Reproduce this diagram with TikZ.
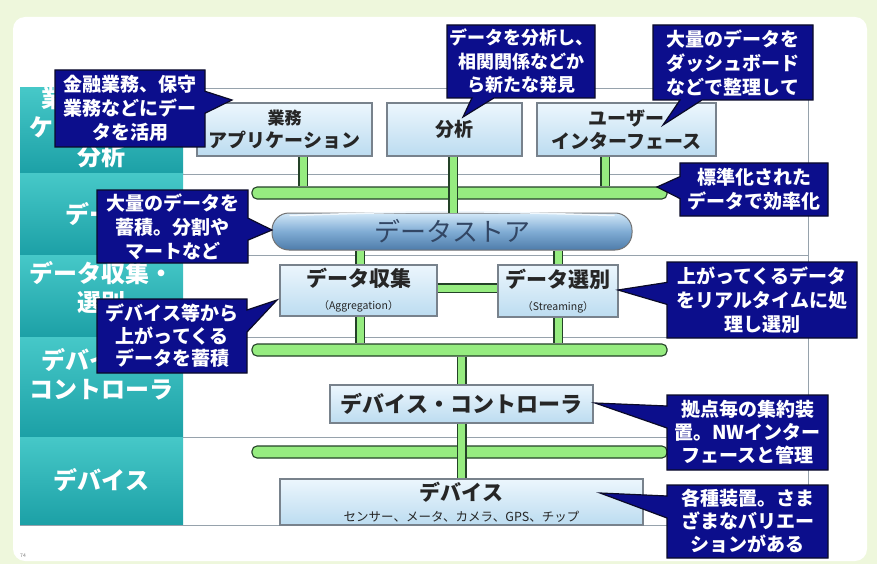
\documentclass[tikz,border=0pt]{standalone}
\usepackage{fontspec}
\setmainfont{Noto Sans CJK JP}
\usetikzlibrary{shapes.callouts,calc}
\definecolor{bgG}{RGB}{238,247,220}
\definecolor{tealT}{RGB}{70,200,200}
\definecolor{tealB}{RGB}{28,160,166}
\definecolor{gridline}{RGB}{150,162,172}
\definecolor{boxtop}{RGB}{236,246,253}
\definecolor{boxbot}{RGB}{188,220,240}
\definecolor{boxline}{RGB}{120,130,140}
\definecolor{busfill}{RGB}{150,236,128}
\definecolor{busline}{RGB}{36,66,40}
\definecolor{callfill}{RGB}{12,14,140}
\definecolor{callline}{RGB}{10,10,40}
\definecolor{dsT}{RGB}{210,232,248}
\definecolor{dsM}{RGB}{128,172,212}
\definecolor{dsB}{RGB}{78,124,170}
\definecolor{dstext}{RGB}{50,70,100}
\begin{document}
\begin{tikzpicture}[x=1pt,y=-1pt,
  box/.style={draw=boxline, line width=1.2pt, top color=boxtop, bottom color=boxbot,
    inner sep=0pt, align=center, font=\fontsize{19}{23}\selectfont\bfseries, text=black!85},
  bus/.style={draw=busline, fill=busfill, line width=1.1pt, rounded corners=5pt,
    minimum width=415pt, minimum height=12pt, inner sep=0pt},
  conn/.style={line width=10pt, draw=busline, postaction={draw=busfill, line width=7pt}},
  call/.style={rectangle callout, fill=callfill, draw=callline, line width=1.2pt, text=white,
    font=\fontsize{19}{24}\selectfont\bfseries, align=center, inner sep=0pt,
    callout pointer width=22pt},
  rowlab/.style={text=white, font=\fontsize{24}{29}\selectfont\bfseries, align=center},
  grid/.style={draw=gridline, line width=0.8pt}]
\useasboundingbox (0,0) rectangle (877,564);
% background and panel
\fill[bgG] (0,0) rectangle (877,564);
\fill[white, rounded corners=12pt] (13,17) rectangle (867,561);
% left column rows
\foreach \a/\b in {88/174,174/255,255/337,337/437,437/525}
  \shade[top color=tealT, bottom color=tealB] (20,\a) rectangle (183,\b);
\node[rowlab] (r1) at (101.5,127) {業務アプリ\\ケーション・\\分析};
\node[rowlab] (r2) at (101.5,214) {データ};
\node[rowlab] (r3) at (101.5,288) {データ収集・\\選別};
\node[rowlab] (r4) at (101.5,374) {デバイス・\\コントローラ};
\node[rowlab] (r5) at (101.5,480) {デバイス};
% grid lines
\foreach \y in {88,174,255,337,437} \draw[grid] (183,\y) -- (808,\y);
\draw[grid] (20,525) -- (808,525);
\draw[grid] (808,88) -- (808,525);
% boxes
\node[box, minimum width=175pt, minimum height=53pt] (app) at (284.5,129.5)
  {{\fontsize{17}{23}\selectfont 業務}\\アプリケーション};
\node[box, minimum width=135pt, minimum height=53pt] (ana) at (454.5,129.5) {分析};
\node[box, minimum width=179pt, minimum height=53pt] (ui) at (626.5,129.5)
  {ユーザー\\インターフェース};
\node[bus] (bus1) at (459.5,193) {};
\node[box, minimum width=157pt, minimum height=51pt, font=\fontsize{21}{23}\selectfont\bfseries] (agg) at (358.5,290.5)
  {データ収集\\{\fontsize{10.5}{12}\selectfont\mdseries （Aggregation）}};
\node[box, minimum width=120pt, minimum height=52pt, font=\fontsize{21}{23}\selectfont\bfseries] (str) at (558,291)
  {データ選別\\{\fontsize{10.5}{12}\selectfont\mdseries （Streaming）}};
\node[bus] (bus2) at (459.5,350) {};
\node[box, minimum width=263pt, minimum height=38pt, font=\fontsize{22}{24}\selectfont\bfseries] (ctl) at (461.5,404)
  {デバイス・コントローラ};
\node[bus] (bus3) at (459.5,452) {};
\node[box, minimum width=363pt, minimum height=46pt, font=\fontsize{21}{21}\selectfont\bfseries] (dev) at (461.5,502)
  {デバイス\\{\fontsize{12.5}{13}\selectfont\mdseries センサー、メータ、カメラ、GPS、チップ}};
% data store
\node[draw=black!55, line width=1pt, rounded corners=17pt, top color=dsT, bottom color=dsB, middle color=dsM,
  minimum width=360pt, minimum height=37pt, inner sep=0pt, text=dstext,
  font=\fontsize{26}{28}\selectfont] (ds) at (452,231.5) {データストア};
\draw[white!70!dsT, line width=1.5pt] ([xshift=18pt,yshift=-3pt]ds.north west) .. controls ([yshift=2pt]ds.north) .. ([xshift=-18pt,yshift=-3pt]ds.north east);
% connectors
\draw[conn] ([xshift=18.5pt]app.south) -- ([xshift=18.5pt]app.south |- bus1.north);
\draw[conn] ([xshift=-21.5pt]ui.south) -- ([xshift=-21.5pt]ui.south |- bus1.north);
\draw[conn] ([xshift=-1.5pt]ana.south) -- ([xshift=-1.5pt]ana.south |- ds.north);
\draw[conn] ([xshift=1.5pt]agg.north |- ds.south) -- ([xshift=1.5pt]agg.north);
\draw[conn] (str.north |- ds.south) -- (str.north);
\draw[conn] ([yshift=2.5pt]agg.east) -- ([yshift=2.5pt]agg.east -| str.west);
\draw[conn] ([xshift=1.5pt]agg.south) -- ([xshift=1.5pt]agg.south |- bus2.north);
\draw[conn] (str.south) -- (str.south |- bus2.north);
\draw[conn] (ctl.north |- bus2.south) -- (ctl.north);
\draw[conn] (ctl.south) -- (dev.north);
% callout tips
\coordinate (t1) at (232,100);
\coordinate (t2) at (463,117);
\coordinate (t3) at (663,125);
\coordinate (t4) at (657,187);
\coordinate (t5) at (272,230);
\coordinate (t6) at (618,290);
\coordinate (t7) at (277,300);
\coordinate (t8) at (595,403);
\coordinate (t9) at (600,493);
% callouts
\node[call, minimum width=150pt, minimum height=77pt, callout absolute pointer={(t1)}] (c1) at (130,108.5)
  {金融業務、保守\\業務などにデー\\タを活用};
\node[call, minimum width=148pt, minimum height=73pt, font=\fontsize{18}{23.5}\selectfont\bfseries,
  callout absolute pointer={(t2)}] (c2) at (521,61.5)
  {データを分析し、\\相関関係などか\\ら新たな発見};
\node[call, minimum width=160pt, minimum height=75pt, callout absolute pointer={(t3)}] (c3) at (733,62.5)
  {大量のデータを\\ダッシュボード\\などで整理して};
\node[call, minimum width=148pt, minimum height=53pt, callout absolute pointer={(t4)}] (c4) at (754,189.5)
  {標準化された\\データで効率化};
\node[call, minimum width=151pt, minimum height=73pt, callout absolute pointer={(t5)}] (c5) at (172.5,226.5)
  {大量のデータを\\蓄積。分割や\\マートなど};
\node[call, minimum width=190pt, minimum height=76pt, callout absolute pointer={(t6)}] (c6) at (762,300)
  {上がってくるデータ\\をリアルタイムに処\\理し選別};
\node[call, minimum width=150pt, minimum height=74pt, font=\fontsize{19}{22.5}\selectfont\bfseries,
  callout absolute pointer={(t7)}] (c7) at (172,336)
  {デバイス等から\\上がってくる\\データを蓄積};
\node[call, minimum width=161pt, minimum height=75pt, font=\fontsize{19}{23}\selectfont\bfseries,
  callout absolute pointer={(t8)}] (c8) at (747.5,432.5)
  {拠点毎の集約装\\置。NWインター\\フェースと管理};
\node[call, minimum width=161pt, minimum height=73pt, font=\fontsize{19}{23}\selectfont\bfseries,
  callout absolute pointer={(t9)}] (c9) at (747.5,521.5)
  {各種装置。さま\\ざまなバリエー\\ションがある};
% page number
\node[font=\fontsize{5}{6}\selectfont, text=gray] (pg) at (23,556) {74};
\end{tikzpicture}
\end{document}
